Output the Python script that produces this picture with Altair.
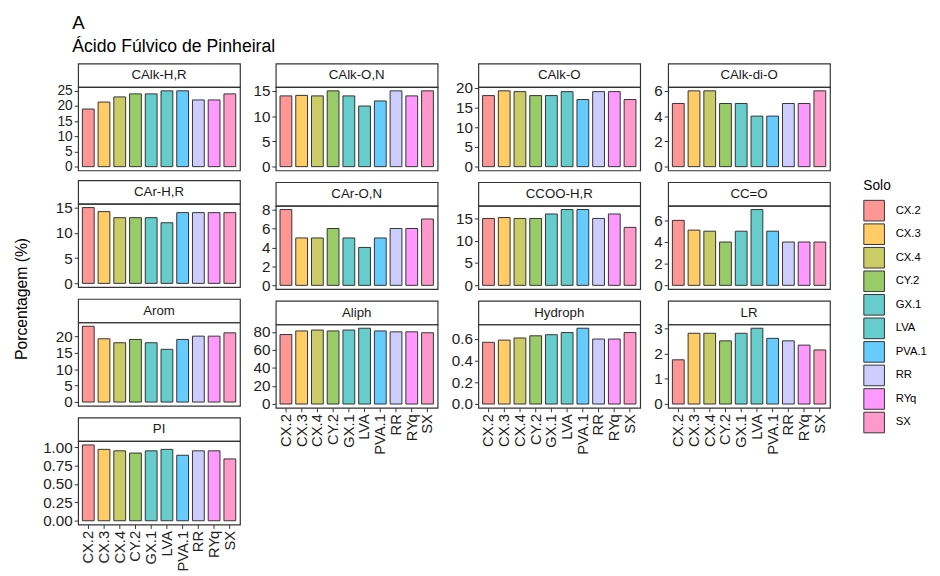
import altair as alt
import pandas as pd

FONT = "Liberation Sans"

solos = ["CX.2", "CX.3", "CX.4", "CY.2", "GX.1", "LVA", "PVA.1", "RR", "RYq", "SX"]
cores = ["#FF9696", "#FFCC66", "#CCCC66", "#99CC66", "#66CCCC",
         "#66CCCC", "#66CCFF", "#CCCCFF", "#FF99FF", "#FF99CC"]

paineis = ["CAlk-H,R", "CAlk-O,N", "CAlk-O", "CAlk-di-O",
           "CAr-H,R", "CAr-O,N", "CCOO-H,R", "CC=O",
           "Arom", "Aliph", "Hydroph", "LR", "PI"]

calk_hr = [19, 21.3, 23, 24, 24, 25, 25, 22, 22, 24]
calk_on = [14, 14.1, 14, 15, 14, 12, 13, 15, 14, 15]
calk_o = [18, 19.2, 19, 18, 18, 19, 17, 19, 19, 17]
calk_dio = [5, 6, 6, 5, 5, 4, 4, 5, 5, 6]
car_hr = [15, 14.2, 13, 13, 13, 12, 14, 14, 14, 14]
car_on = [8, 5, 5, 6, 5, 4, 5, 6, 6, 7]
ccoo_hr = [15, 15.2, 15, 15, 16, 17, 17, 15, 16, 13]
cco = [6, 5.1, 5, 4, 5, 7, 5, 4, 4, 4]
arom = [23, 19.2, 18, 19, 18, 16, 19, 20, 20, 21]
aliph = [77, 81, 82, 81, 82, 84, 81, 80, 80, 79]
hydroph = [0.57, 0.59, 0.61, 0.63, 0.64, 0.66, 0.70, 0.60, 0.60, 0.66]
lr = [1.75, 2.8, 2.8, 2.5, 2.8, 3.0, 2.6, 2.5, 2.33, 2.14]
pi = [1.03, 0.97, 0.95, 0.92, 0.95, 0.97, 0.89, 0.95, 0.95, 0.84]

valores = [calk_hr, calk_on, calk_o, calk_dio, car_hr, car_on, ccoo_hr, cco,
           arom, aliph, hydroph, lr, pi]

ticks = [[0, 5, 10, 15, 20, 25], [0, 5, 10, 15], [0, 5, 10, 15, 20], [0, 2, 4, 6],
         [0, 5, 10, 15], [0, 2, 4, 6, 8], [0, 5, 10, 15], [0, 2, 4, 6],
         [0, 5, 10, 15, 20], [0, 20, 40, 60, 80], [0.0, 0.2, 0.4, 0.6], [0, 1, 2, 3],
         [0.0, 0.25, 0.5, 0.75, 1.0]]
formatos = ["d", "d", "d", "d", "d", "d", "d", "d", "d", "d", ".1f", "d", ".2f"]

# panels per column of the 4-column wrap (ggplot facet_wrap order)
colunas = [[0, 4, 8, 12], [1, 5, 9], [2, 6, 10], [3, 7, 11]]
inferiores = [12, 9, 10, 11]

W = 165
PH = 85
SH = 24

legenda = alt.Legend(
    title="Solo", orient="none", legendX=862, legendY=118,
    symbolType="square", symbolSize=441, symbolStrokeColor="#333333",
    symbolStrokeWidth=1, symbolOpacity=1, rowPadding=-5, labelOffset=11,
    titleFontSize=14, labelFontSize=11.5, titleFont=FONT, labelFont=FONT,
    titleFontWeight="normal", titleColor="#000000", labelColor="#000000",
    titlePadding=7,
)


def painel(i):
    nome = paineis[i]
    vals = valores[i]
    df = pd.DataFrame({"Solo": solos, "Valor": vals})
    vmax = max(vals)
    ylab_size = 14 if len(ticks[i]) > 5 else 15.5
    if i in inferiores:
        xaxis = alt.Axis(title=None, labelAngle=270, labelAlign="right",
                         labelBaseline="middle", domain=False, tickSize=4,
                         tickColor="#333333", labelPadding=2, labelFontSize=15,
                         labelColor="#222222", labelFont=FONT, labelOverlap=False)
    else:
        xaxis = None
    strip = alt.Chart(pd.DataFrame({"nome": [nome]})).mark_text(
        font=FONT, fontSize=13.5, color="#1a1a1a"
    ).encode(
        text="nome:N", x=alt.value(W / 2), y=alt.value(SH / 2)
    ).properties(width=W, height=SH,
                 view=alt.ViewBackground(stroke="#333333", strokeWidth=1.2, fill="white"))
    bars = alt.Chart(df).mark_bar(stroke="#333333", strokeWidth=1).encode(
        x=alt.X("Solo:N", sort=solos,
                scale=alt.Scale(paddingInner=0.25, paddingOuter=0.27), axis=xaxis),
        y=alt.Y("Valor:Q",
                scale=alt.Scale(domain=[-0.05 * vmax, 1.05 * vmax], nice=False, zero=False),
                axis=alt.Axis(values=ticks[i], format=formatos[i], title=None,
                              domain=False, tickSize=4, tickColor="#333333",
                              labelPadding=2, labelFontSize=ylab_size, labelColor="#222222",
                              labelFont=FONT, grid=False, labelOverlap=False)),
        color=alt.Color("Solo:N", scale=alt.Scale(domain=solos, range=cores), legend=legenda),
    ).properties(width=W, height=PH,
                 view=alt.ViewBackground(stroke="#333333", strokeWidth=1.2))
    return alt.vconcat(strip, bars, spacing=0, bounds="flush")


colunas_graf = [alt.vconcat(*[painel(i) for i in col], spacing=5)
                for col in colunas]

ylab = alt.Chart(pd.DataFrame({"t": ["Porcentagem (%)"]})).mark_text(
    font=FONT, fontSize=16, angle=270, baseline="middle", color="#000000"
).encode(text="t:N", x=alt.value(4), y=alt.value(240)).properties(
    width=5, height=300, view=alt.ViewBackground(stroke="transparent"))

chart = alt.hconcat(ylab, *colunas_graf, spacing=11.5).properties(
    title=alt.TitleParams("A", subtitle="Ácido Fúlvico de Pinheiral", anchor="start",
                          fontSize=19, subtitleFontSize=18, font=FONT, subtitleFont=FONT,
                          fontWeight="normal", color="#000000", subtitleColor="#000000",
                          dx=60, dy=-2, offset=5, subtitlePadding=6),
    padding={"left": 5, "top": 0, "right": 5, "bottom": 5},
).configure(font=FONT)

chart.save("out.html", embed_options={"renderer": "svg", "actions": False})
